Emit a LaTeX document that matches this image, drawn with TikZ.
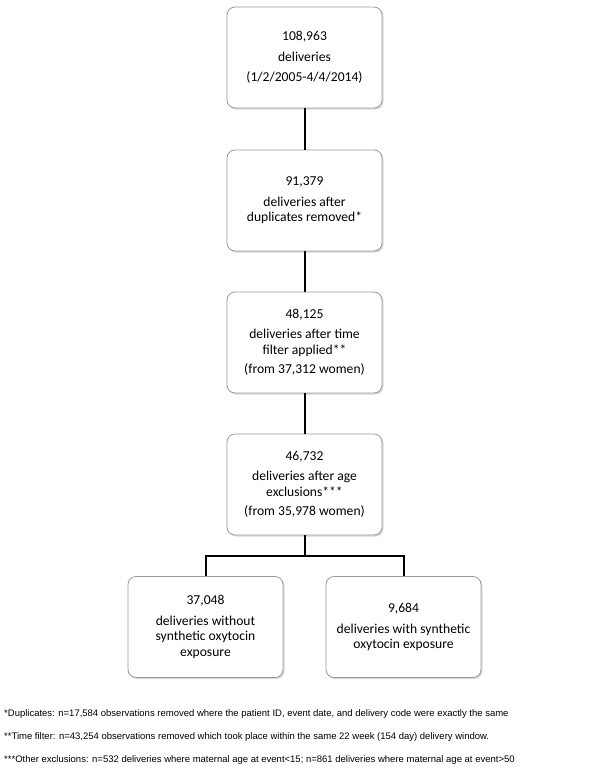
\documentclass[tikz,border=0pt]{standalone}
\usepackage{fontspec}
\setmainfont{Carlito}
\newfontfamily\notefont{Liberation Sans}
\usetikzlibrary{shadows}
\begin{document}
\begin{tikzpicture}[x=1pt,y=-1pt,
  box/.style={draw=black!40, fill=white, rounded corners=8pt, line width=0.8pt,
    minimum width=155pt, minimum height=101pt, align=center, inner sep=2pt,
    font=\fontsize{13.6}{15.5}\selectfont,
    drop shadow={shadow xshift=1.5pt, shadow yshift=-1.5pt, fill=black!30}},
  link/.style={line width=2pt, black},
  note/.style={anchor=west, inner sep=0pt, font=\notefont\fontsize{9.5}{11}\selectfont}]
\useasboundingbox (0,0) rectangle (604,777);
\node[box] (total) at (304.5,57.5) {108,963\\[5pt] deliveries\\[5pt] (1/2/2005-4/4/2014)};
\node[box] (dupl) at (304.5,200.5) {91,379\\[5pt] deliveries after\\ duplicates removed*};
\node[box] (time) at (304.5,342.5) {48,125\\[5pt] deliveries after time\\ filter applied**\\[4pt] (from 37,312 women)};
\node[box] (age) at (304.5,484.5) {46,732\\[5pt] deliveries after age\\ exclusions***\\[4pt] (from 35,978 women)};
\node[box] (without) at (205.5,627) {37,048\\[5pt] deliveries without\\ synthetic oxytocin\\ exposure};
\node[box] (with) at (403.5,627) {9,684\\[5pt] deliveries with synthetic\\ oxytocin exposure};
\coordinate (split) at (304.5,556);
\draw[link] (total) -- (dupl);
\draw[link] (dupl) -- (time);
\draw[link] (time) -- (age);
\draw[link] (age) -- (split);
\draw[link] (without.north) |- (split) -| (with.north);
\node[note] (n1) at (4,714) {*Duplicates: n=17,584 observations removed where the patient ID, event date, and delivery code were exactly the same};
\node[note] (n2) at (4,737) {**Time filter: n=43,254 observations removed which took place within the same 22 week (154 day) delivery window.};
\node[note] (n3) at (4,760) {***Other exclusions: n=532 deliveries where maternal age at event<15; n=861 deliveries where maternal age at event>50};
\end{tikzpicture}
\end{document}
